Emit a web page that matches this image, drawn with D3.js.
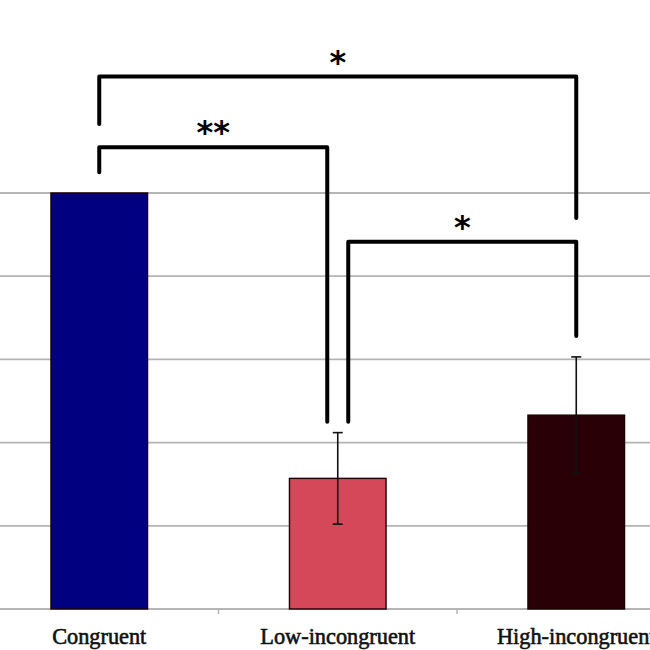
<!DOCTYPE html>
<html><head><meta charset="utf-8">
<script src="https://cdn.jsdelivr.net/npm/d3@7"></script>
<style>html,body{margin:0;padding:0;background:#fff;overflow:hidden}</style>
</head><body>
<svg id="chart" width="650" height="650"></svg>
<script>
const categories = ["Congruent", "Low-incongruent", "High-incongruent"];
const values = [100, 31.4, 46.6];
const errors = [0, 11, 14];
const colors = ["#000080", "#d5485a", "#2a0007"];
const yTicks = [0, 20, 40, 60, 80, 100];
// significance brackets: from, to, label, top level, left-leg end, right-leg end
const brFrom = [0, 0, 1];
const brTo = [2, 1, 2];
const brLabel = ["*", "**", "*"];
const brTop = [128, 111, 88.3];
const brLeftEnd = [116.6, 105, 45];
const brRightEnd = [94, 45, 65.6];

const svg = d3.select("#chart");
const x = d3.scaleBand().domain(categories).range([-20, 695.5]).padding(0);
const y = d3.scaleLinear().domain([0, 100]).range([609, 193]);
const barW = x.bandwidth() * 0.405;
const cx = c => x(c) + x.bandwidth() / 2;

// gridlines
svg.append("g").selectAll("line").data(yTicks).join("line")
  .attr("x1", 0).attr("x2", 650)
  .attr("y1", d => y(d)).attr("y2", d => y(d))
  .attr("stroke", "#b4b4b4").attr("stroke-width", 1.8);

// x tick marks at band boundaries
svg.append("g").selectAll("line").data(categories.slice(1)).join("line")
  .attr("x1", d => x(d)).attr("x2", d => x(d))
  .attr("y1", y(0)).attr("y2", y(0) + 5)
  .attr("stroke", "#b4b4b4").attr("stroke-width", 1.5);

// bars
svg.append("g").selectAll("rect").data(categories).join("rect")
  .attr("x", d => cx(d) - barW / 2)
  .attr("width", barW)
  .attr("y", (d, i) => y(values[i]))
  .attr("height", (d, i) => y(0) - y(values[i]))
  .attr("fill", (d, i) => colors[i])
  .attr("stroke", "#1a0000").attr("stroke-width", 1.4);

// error bars
const eg = svg.append("g").attr("stroke", "#111").attr("stroke-width", 1.6);
categories.forEach((c, i) => {
  if (!errors[i]) return;
  const xc = cx(c);
  eg.append("line").attr("x1", xc).attr("x2", xc)
    .attr("y1", y(values[i] + errors[i])).attr("y2", y(values[i] - errors[i]));
  [values[i] + errors[i], values[i] - errors[i]].forEach(v => {
    eg.append("line").attr("x1", xc - 5).attr("x2", xc + 5)
      .attr("y1", y(v)).attr("y2", y(v));
  });
});

// category labels
svg.append("g").selectAll("text").data(categories).join("text")
  .attr("x", d => cx(d)).attr("y", 644)
  .attr("text-anchor", "middle")
  .attr("font-family", "'Liberation Serif', 'Times New Roman', serif")
  .attr("font-size", 22.3)
  .attr("fill", "#111").attr("stroke", "#111").attr("stroke-width", 0.6)
  .text(d => d);

// brackets
const offset = 10.5;
const bg = svg.append("g");
brFrom.forEach((f, i) => {
  const t = brTo[i];
  const lx = cx(categories[f]) + (f === 1 ? offset : 0);
  const rx = cx(categories[t]) - (t === 1 ? offset : 0);
  const path = d3.path();
  path.moveTo(lx, y(brLeftEnd[i]));
  path.lineTo(lx, y(brTop[i]));
  path.lineTo(rx, y(brTop[i]));
  path.lineTo(rx, y(brRightEnd[i]));
  bg.append("path").attr("d", path.toString())
    .attr("fill", "none").attr("stroke", "#000").attr("stroke-width", 4)
    .attr("stroke-linejoin", "round").attr("stroke-linecap", "round");
  bg.append("text")
    .attr("x", (lx + rx) / 2).attr("y", y(brTop[i]) - 4)
    .attr("text-anchor", "middle")
    .attr("font-family", "'DejaVu Sans', sans-serif")
    .attr("font-weight", "bold")
    .attr("font-size", 32)
    .attr("fill", "#000")
    .text(brLabel[i]);
});
</script>
</body></html>
